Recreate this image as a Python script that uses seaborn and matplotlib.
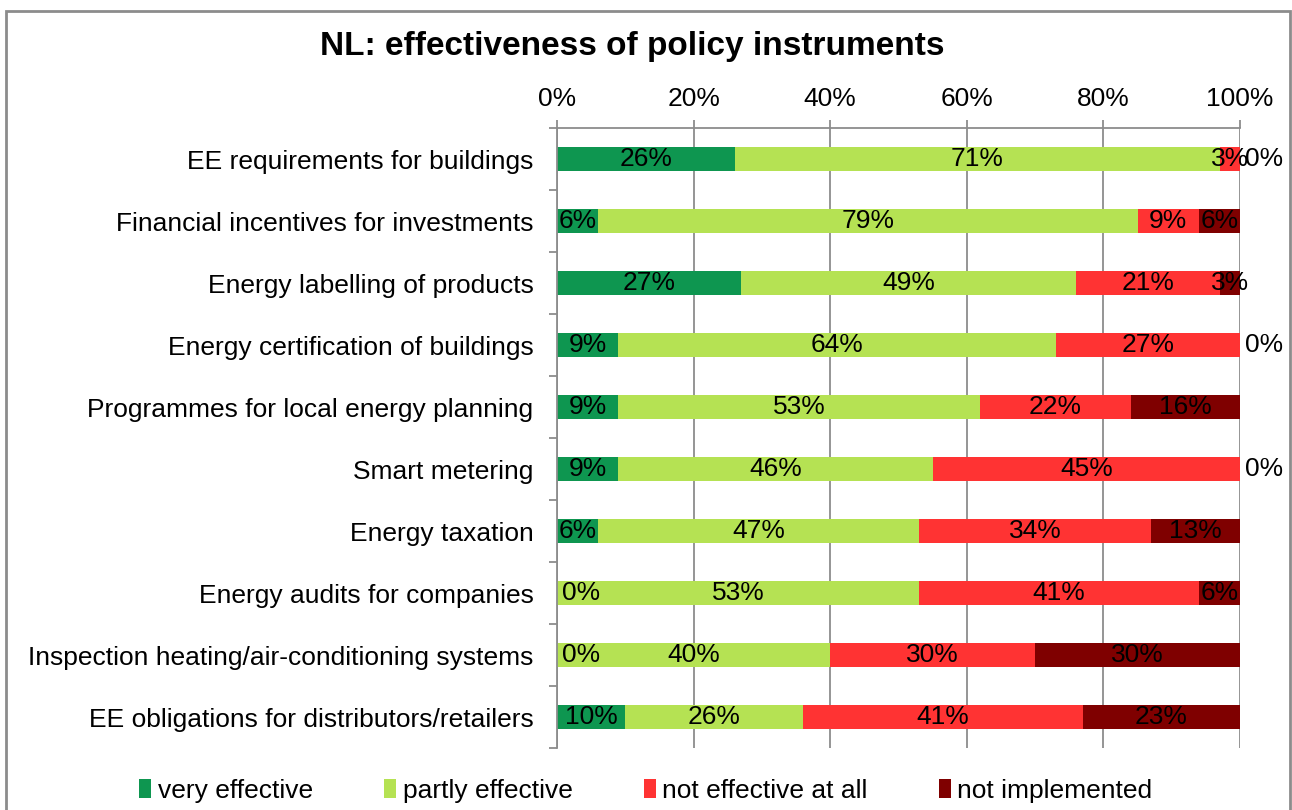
import numpy as np
import pandas as pd
import matplotlib
matplotlib.use("Agg")
import matplotlib.pyplot as plt
from matplotlib.patches import Rectangle, Patch
from matplotlib.ticker import FixedLocator, PercentFormatter
import seaborn as sns

# Survey shares per instrument (percent)
instruments = [
    "EE requirements for buildings",
    "Financial incentives for investments",
    "Energy labelling of products",
    "Energy certification of buildings",
    "Programmes for local energy planning",
    "Smart metering",
    "Energy taxation",
    "Energy audits for companies",
    "Inspection heating/air-conditioning systems",
    "EE obligations for distributors/retailers",
]
very_effective = [26, 6, 27, 9, 9, 9, 6, 0, 0, 10]
partly_effective = [71, 79, 49, 64, 53, 46, 47, 53, 40, 26]
not_effective = [3, 9, 21, 27, 22, 45, 34, 41, 30, 41]
not_implemented = [0, 6, 3, 0, 16, 0, 13, 6, 30, 23]

series_names = ["very effective", "partly effective", "not effective at all", "not implemented"]
series_values = [very_effective, partly_effective, not_effective, not_implemented]
colors = ["#0E9650", "#B5E253", "#FF3333", "#7F0000"]

sns.set_theme(style="white")
plt.rcParams["font.family"] = ["Liberation Sans", "DejaVu Sans"]
plt.rcParams["text.color"] = "black"
plt.rcParams["xtick.color"] = "black"
plt.rcParams["ytick.color"] = "black"

FS = 19

fig = plt.figure(figsize=(12.92, 8.10), dpi=100)
ax = fig.add_axes([557 / 1292, 1 - 748 / 810, (1240 - 557) / 1292, (748 - 128) / 810])

df = pd.DataFrame({name: vals for name, vals in zip(series_names, series_values)})
df["instrument"] = instruments
cum = df[series_names].cumsum(axis=1)

# Stacked bars: draw cumulative totals from the widest down
for name, color in reversed(list(zip(series_names, colors))):
    sns.barplot(x=cum[name], y=df["instrument"], color=color, orient="h",
                width=0.40, ax=ax, saturation=1, edgecolor="none", zorder=3)

# Segment value labels
for i in range(len(instruments)):
    start = 0
    for name in series_names:
        v = df.loc[i, name]
        if v == 0:
            ax.text(start + 0.7, i, f"{v}%", ha="left", va="center",
                    fontsize=FS, color="black", zorder=5)
        else:
            ax.text(start + v / 2, i, f"{v}%", ha="center", va="center",
                    fontsize=FS, color="black", zorder=5)
        start += v

ax.set_xlim(0, 100)
ax.set_ylim(len(instruments) - 0.5, -0.5)
ax.set_xlabel("")
ax.set_ylabel("")

grid_c = "#8C8C8C"
ax.xaxis.tick_top()
ax.xaxis.set_major_locator(FixedLocator([0, 20, 40, 60, 80, 100]))
ax.xaxis.set_major_formatter(PercentFormatter(decimals=0))
ax.grid(axis="x", color=grid_c, linewidth=1.3, zorder=0)
ax.grid(axis="y", visible=False)
ax.set_axisbelow(True)

ax.tick_params(axis="x", which="major", top=True, bottom=False, direction="out",
               length=6, width=1.3, color=grid_c, labelcolor="black",
               labelsize=FS, pad=6)
ax.tick_params(axis="y", which="major", left=False, labelsize=FS,
               labelcolor="black", pad=11)
ax.yaxis.set_minor_locator(FixedLocator(np.arange(-0.5, len(instruments), 1.0)))
ax.tick_params(axis="y", which="minor", left=True, direction="out",
               length=6, width=1.3, color=grid_c)

for side in ["right", "bottom"]:
    ax.spines[side].set_visible(False)
for side in ["top", "left"]:
    ax.spines[side].set_color(grid_c)
    ax.spines[side].set_linewidth(1.3)
    ax.spines[side].set_zorder(4)

fig.text(632 / 1292, 1 - 46 / 810, "NL: effectiveness of policy instruments",
         ha="center", va="center", fontsize=24, fontweight="bold", color="black")

handles = [Patch(facecolor=c, edgecolor="none") for c in colors]
fig.legend(handles, series_names, loc="center", bbox_to_anchor=(0.5, 1 - 791 / 810),
           ncol=4, frameon=False, fontsize=FS, handlelength=0.45, handleheight=0.75,
           handletextpad=0.25, columnspacing=2.7, labelcolor="black")

# Chart frame
fig.patches.append(Rectangle((6 / 1292, -0.05), (1290 - 6) / 1292, 1.05 - 11 / 810,
                             transform=fig.transFigure, fill=False,
                             edgecolor="#8C8C8C", linewidth=2))

fig.savefig("out.png", dpi=100)
